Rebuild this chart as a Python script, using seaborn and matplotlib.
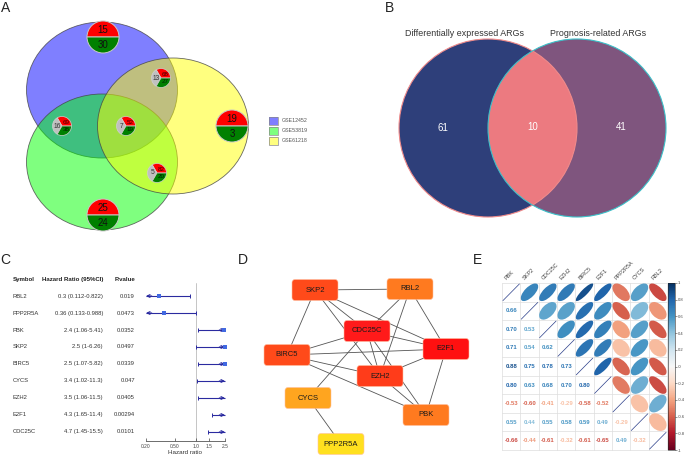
import numpy as np
import matplotlib
matplotlib.use("Agg")
import matplotlib.pyplot as plt
from matplotlib.patches import Ellipse, Wedge, Circle, FancyBboxPatch, Rectangle
from matplotlib import transforms
from matplotlib.ticker import NullLocator
import seaborn as sns

sns.set_style("white")
plt.rcParams["font.family"] = ["Liberation Sans", "DejaVu Sans"]

W, H = 685, 458

# ---- A: three-set venn with up/down pies
gse_sets = ["GSE12452", "GSE53819", "GSE61218"]
single_up = [15, 25, 19]
single_down = [30, 24, 3]
overlap_gray = [13, 16, 7, 5]
overlap_up = [68, 69, 52, 82]
overlap_down = [27, 38, 19, 20]

# ---- B: two-set venn
venn2_labels = ["Differentially expressed ARGs", "Prognosis-related ARGs"]
venn2_counts = [61, 10, 41]

# ---- C: forest plot
genes_c = ["RBL2", "PPP2R5A", "PBK", "SKP2", "BIRC5", "CYCS", "EZH2", "E2F1", "CDC25C"]
hr = [0.3, 0.36, 2.4, 2.5, 2.5, 3.4, 3.5, 4.3, 4.7]
hr_lo = [0.112, 0.133, 1.06, 1.0, 1.07, 1.02, 1.06, 1.65, 1.45]
hr_hi = [0.822, 0.988, 5.41, 6.26, 5.82, 11.3, 11.5, 11.4, 15.5]
pvals = ["0.019", "0.0473", "0.0352", "0.0497", "0.0339", "0.047", "0.0405", "0.00294", "0.0101"]
hr_ticks = [0.2, 0.5, 1.0, 1.5, 2.5]
hr_ticklabels = ["0.20", "0.50", "1.0", "1.5", "2.5"]

# ---- D: PPI network
nodes_d = ["SKP2", "RBL2", "CDC25C", "BIRC5", "E2F1", "EZH2", "CYCS", "PBK", "PPP2R5A"]
edges_d = [("SKP2", "RBL2"), ("SKP2", "BIRC5"), ("SKP2", "CDC25C"), ("SKP2", "EZH2"),
           ("SKP2", "E2F1"), ("RBL2", "CDC25C"), ("RBL2", "EZH2"), ("RBL2", "E2F1"),
           ("CDC25C", "BIRC5"), ("CDC25C", "E2F1"), ("CDC25C", "EZH2"), ("CDC25C", "CYCS"),
           ("CDC25C", "PBK"), ("BIRC5", "E2F1"), ("BIRC5", "EZH2"), ("BIRC5", "PBK"),
           ("EZH2", "E2F1"), ("EZH2", "PBK"), ("E2F1", "PBK"), ("CYCS", "PPP2R5A")]

# ---- E: correlation matrix (lower triangle values)
genes_e = ["PBK", "SKP2", "CDC25C", "EZH2", "BIRC5", "E2F1", "PPP2R5A", "CYCS", "RBL2"]
corr_lower = [
    [],
    [0.66],
    [0.70, 0.53],
    [0.71, 0.54, 0.62],
    [0.88, 0.75, 0.78, 0.73],
    [0.80, 0.63, 0.68, 0.70, 0.80],
    [-0.53, -0.60, -0.41, -0.29, -0.58, -0.52],
    [0.55, 0.44, 0.55, 0.58, 0.59, 0.49, -0.29],
    [-0.66, -0.44, -0.61, -0.32, -0.61, -0.65, 0.49, -0.32],
]

fig = plt.figure(figsize=(W / 100, H / 100), dpi=100)


def px_axes(x0, y0, x1, y1):
    return fig.add_axes([x0 / W, 1 - y1 / H, (x1 - x0) / W, (y1 - y0) / H])


ov = fig.add_axes([0, 0, 1, 1])
ov.set_xlim(0, W)
ov.set_ylim(H, 0)
ov.axis("off")

# panel letters
for lab, (lx, ly) in zip("ABCDE", [(6, 8), (390, 8), (5, 260), (243, 260), (478, 260)]):
    ov.text(lx, ly, lab, fontsize=10, color="#222222", ha="center", va="center")

# ---------------- A
set_fill = ["#0000ff", "#00ff00", "#ffff00"]
ell_xy = [(102, 90), (102, 162), (173, 126)]
for (cx, cy), col in zip(ell_xy, set_fill):
    ov.add_patch(Ellipse((cx, cy), 151, 136, facecolor=col, alpha=0.5, edgecolor="none"))
    ov.add_patch(Ellipse((cx, cy), 151, 136, facecolor="none", edgecolor="#444444", lw=0.6, alpha=0.8))

big_xy = [(103, 37), (103, 215), (232, 126)]
for (cx, cy), up, dn in zip(big_xy, single_up, single_down):
    r = 16
    ov.add_patch(Wedge((cx, cy), r, 180, 360, facecolor="#ff0000", edgecolor="#c8c8c8", lw=0.7))
    ov.add_patch(Wedge((cx, cy), r, 0, 180, facecolor="#008000", edgecolor="#c8c8c8", lw=0.7))
    ov.text(cx, cy - 0.45 * r, str(up), fontsize=7, ha="center", va="center", color="#111111")
    ov.text(cx, cy + 0.5 * r, str(dn), fontsize=7, ha="center", va="center", color="#111111")

small_xy = [(161, 78), (62, 126), (126, 126), (157, 173)]
for (cx, cy), g, up, dn in zip(small_xy, overlap_gray, overlap_up, overlap_down):
    r = 9.5
    ov.add_patch(Wedge((cx, cy), r, 240, 360, facecolor="#ff0000", edgecolor="#d0d0d0", lw=0.5))
    ov.add_patch(Wedge((cx, cy), r, 120, 240, facecolor="#c0c0c0", edgecolor="#d0d0d0", lw=0.5))
    ov.add_patch(Wedge((cx, cy), r, 0, 120, facecolor="#008000", edgecolor="#d0d0d0", lw=0.5))
    ov.text(cx - 0.5 * r, cy, str(g), fontsize=4.8, ha="center", va="center", color="#333333")
    ov.text(cx + 0.45 * r, cy - 0.38 * r, str(up), fontsize=4.5, ha="center", va="center", color="#400000")
    ov.text(cx + 0.45 * r, cy + 0.42 * r, str(dn), fontsize=4.5, ha="center", va="center", color="#002000")

for k, (name, col) in enumerate(zip(gse_sets, set_fill)):
    y = 117 + k * 10
    ov.add_patch(Rectangle((269, y), 9, 8, facecolor=col, alpha=0.5, edgecolor="none"))
    ov.add_patch(Rectangle((269, y), 9, 8, facecolor="none", edgecolor="#888888", lw=0.5))
    ov.text(282, y + 4, name, fontsize=3.8, ha="left", va="center", color="#555555")

# ---------------- B
c_left, c_right, rr = (488, 128), (577, 128), 89
left = Circle(c_left, rr, facecolor="#2e3f7a", edgecolor="none")
right = Circle(c_right, rr, facecolor="#7f557e", edgecolor="none")
ov.add_patch(left)
ov.add_patch(right)
inter = Circle(c_left, rr, facecolor="#ec7a80", edgecolor="none")
ov.add_patch(inter)
inter.set_clip_path(right)
ov.add_patch(Circle(c_left, rr, facecolor="none", edgecolor="#f08a8a", lw=0.8))
ov.add_patch(Circle(c_right, rr, facecolor="none", edgecolor="#3cc0c8", lw=0.8))
ov.text(465, 33, venn2_labels[0], fontsize=6.4, ha="center", va="center", color="#333333")
ov.text(598, 33, venn2_labels[1], fontsize=6.4, ha="center", va="center", color="#333333")
for (tx, ty), n in zip([(443, 128), (533, 127), (621, 127)], venn2_counts):
    ov.text(tx, ty, str(n), fontsize=7, ha="center", va="center", color="white")

# ---------------- C
axf = px_axes(146, 283, 225, 441)
rows = np.arange(len(genes_c))
axf.set_xscale("log")
axf.set_xlim(hr_ticks[0], hr_ticks[-1])
axf.set_ylim(8.53, -0.765)
axf.axvline(1.0, color="#bbbbbb", lw=0.6, zorder=0)
xmin, xmax = hr_ticks[0], hr_ticks[-1]
line_col = "#2b2ba0"
for i, lo, hi in zip(rows, hr_lo, hr_hi):
    a, b = max(lo, xmin), min(hi, xmax)
    axf.plot([a, b], [i, i], color=line_col, lw=0.8, clip_on=False, solid_capstyle="butt")
    if lo < xmin:
        axf.annotate("", xy=(xmin, i), xytext=(xmin * 1.2, i),
                     arrowprops=dict(arrowstyle="->", color=line_col, lw=0.8, mutation_scale=5,
                                     shrinkA=0, shrinkB=0), annotation_clip=False)
    else:
        axf.plot([a], [i], marker="|", ms=3, color=line_col, mew=0.7, clip_on=False)
    if hi > xmax:
        axf.annotate("", xy=(xmax, i), xytext=(xmax / 1.2, i),
                     arrowprops=dict(arrowstyle="->", color=line_col, lw=0.8, mutation_scale=5,
                                     shrinkA=0, shrinkB=0), annotation_clip=False)
    else:
        axf.plot([b], [i], marker="|", ms=3, color=line_col, mew=0.7, clip_on=False)
inside = [k for k, v in enumerate(hr) if v <= xmax]
sns.scatterplot(x=[hr[k] for k in inside], y=[rows[k] for k in inside], marker="s", s=12,
                color="#4169e1", linewidth=0, ax=axf, legend=False, zorder=4, clip_on=False)
axf.set_xticks(hr_ticks)
axf.set_xticklabels(hr_ticklabels)
axf.xaxis.set_minor_locator(NullLocator())
axf.set_yticks([])
for s in ["left", "right", "top"]:
    axf.spines[s].set_visible(False)
axf.spines["bottom"].set_color("#555555")
axf.spines["bottom"].set_linewidth(0.6)
axf.tick_params(axis="x", direction="in", length=2.5, width=0.5, labelsize=3.5, pad=2,
                colors="#444444", bottom=True)
axf.set_xlabel("Hazard ratio", fontsize=4.5, labelpad=1, color="#333333")
axf.patch.set_alpha(0)

tr = transforms.blended_transform_factory(ov.transData, axf.transData)
hdr = dict(fontsize=4.4, fontweight="bold", va="center", color="#222222", transform=tr)
axf.text(13, -1, "Symbol", ha="left", **hdr)
axf.text(103, -1, "Hazard Ratio (95%CI)", ha="right", **hdr)
axf.text(135, -1, "P.value", ha="right", **hdr)
cell = dict(fontsize=4.2, va="center", color="#333333", transform=tr)
for i, g, v, lo, hi, p in zip(rows, genes_c, hr, hr_lo, hr_hi, pvals):
    axf.text(13, i, g, ha="left", **cell)
    axf.text(103, i, f"{v:g} ({lo:g}-{hi:g})", ha="right", **cell)
    axf.text(135, i, p, ha="right", **cell)

# ---------------- D
node_xy = {"SKP2": (315, 290), "RBL2": (410, 289), "CDC25C": (367, 331), "BIRC5": (287, 355),
           "E2F1": (446, 349), "EZH2": (380, 376), "CYCS": (308, 398), "PBK": (426, 415),
           "PPP2R5A": (341, 444)}
node_col = {"SKP2": "#ff4a1a", "RBL2": "#ff7a1f", "CDC25C": "#ff1a1a", "BIRC5": "#ff4a1a",
            "E2F1": "#ff1010", "EZH2": "#ff3c1a", "CYCS": "#ffa51f", "PBK": "#ff7a1f",
            "PPP2R5A": "#ffe01f"}
for a, b in edges_d:
    (x1, y1), (x2, y2) = node_xy[a], node_xy[b]
    ov.plot([x1, x2], [y1, y2], color="#555555", lw=0.6, zorder=2)
bw, bh = 46, 21
for n in nodes_d:
    cx, cy = node_xy[n]
    ov.add_patch(FancyBboxPatch((cx - bw / 2, cy - bh / 2), bw, bh,
                                boxstyle="round,pad=0,rounding_size=3",
                                facecolor=node_col[n], edgecolor="#ffc0a0", lw=0.4, zorder=3))
    ov.text(cx, cy, n, fontsize=5.5, ha="center", va="center", color="#1a1a1a", zorder=4)

# ---------------- E
n = len(genes_e)
corr = np.eye(n)
for i, row in enumerate(corr_lower):
    for j, v in enumerate(row):
        corr[i, j] = v
        corr[j, i] = v
cmap = sns.color_palette("RdBu", as_cmap=True)
norm = matplotlib.colors.Normalize(-1, 1)

axc = px_axes(502, 283, 667, 450)
axc.set_xlim(0, n)
axc.set_ylim(n, 0)
axc.axis("off")
for k in range(n + 1):
    axc.plot([k, k], [0, n], color="#dddddd", lw=0.5, zorder=1, clip_on=False)
    axc.plot([0, n], [k, k], color="#dddddd", lw=0.5, zorder=1, clip_on=False)
for i in range(n):
    for j in range(n):
        v = corr[i, j]
        if i == j:
            axc.plot([j + 0.05, j + 0.95], [i + 0.95, i + 0.05], color="#2b3f8a", lw=0.5, zorder=2)
        elif j > i:
            w = 0.95 * np.sqrt(1 + abs(v))
            h = 0.95 * np.sqrt(1 - abs(v))
            ang = -45 if v > 0 else 45
            axc.add_patch(Ellipse((j + 0.5, i + 0.5), w, h, angle=ang,
                                  facecolor=cmap(norm(v)), edgecolor="none", zorder=2))
        else:
            axc.text(j + 0.5, i + 0.5, f"{v:.2f}", fontsize=4.3, fontweight="bold",
                     ha="center", va="center", color=cmap(norm(v)), zorder=3)
for j, g in enumerate(genes_e):
    axc.text(j + 0.3, -0.12, g, fontsize=4, rotation=45, rotation_mode="anchor",
             ha="left", va="bottom", color="#444444")

cax = px_axes(668, 283, 675, 450)
cb = fig.colorbar(matplotlib.cm.ScalarMappable(norm=norm, cmap=cmap), cax=cax)
cb_ticks = np.round(np.arange(-1, 1.01, 0.2), 1)
cb.set_ticks(cb_ticks)
cb.set_ticklabels([f"{t:g}" for t in cb_ticks])
cb.ax.tick_params(labelsize=3.0, length=1.2, width=0.4, pad=1, colors="#444444")
cb.outline.set_linewidth(0.4)

fig.savefig("out.png", dpi=100)
